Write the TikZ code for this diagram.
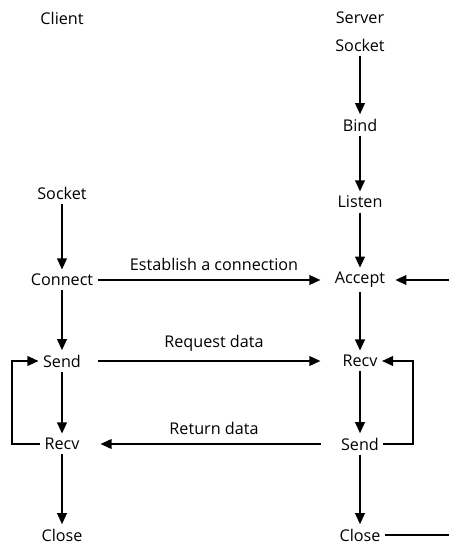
\documentclass[tikz,border=0pt]{standalone}
\usepackage{fontspec}
\setmainfont{Open Sans}
\usetikzlibrary{arrows.meta,positioning}
\tikzset{
  >={Triangle[length=2.8mm,width=2.4mm]},
  lbl/.style={font=\fontsize{11.5}{13}\selectfont,inner sep=3pt},
  flow/.style={->,line width=1.5pt,draw=#1},
  flow/.default=black,
}
\begin{document}
\begin{tikzpicture}[x=0.025cm,y=-0.025cm]
    \useasboundingbox (0,0) rectangle (449,544);
    % headings
    \node[lbl] (client) at (62,18)  {Client};
    \node[lbl] (server) at (360,18) {Server};
    % server side
    \node[lbl] (ssock)  at (360,45)  {Socket};
    \node[lbl] (bind)   at (360,125) {Bind};
    \node[lbl] (listen) at (360,202) {Listen};
    \node[lbl] (accept) at (360,280) {Accept};
    \node[lbl] (srecv)  at (360,361) {Recv};
    \node[lbl] (ssend)  at (360,444) {Send};
    \node[lbl] (sclose) at (360,535) {Close};
    % client side
    \node[lbl] (csock)   at (62,193) {Socket};
    \node[lbl] (connect) at (62,280) {Connect};
    \node[lbl] (csend)   at (62,361) {Send};
    \node[lbl] (crecv)   at (62,444) {Recv};
    \node[lbl] (cclose)  at (62,535) {Close};
    \coordinate (edgeA) at (449,280);
    \coordinate (edgeC) at (449,535);
    \foreach \a/\b in {ssock/bind,bind/listen,listen/accept,accept/srecv,srecv/ssend,ssend/sclose,
      csock/connect,connect/csend,csend/crecv,crecv/cclose} \draw[flow] (\a) -- (\b);
    \draw[flow,shorten >=7pt] (connect.east) -- node[lbl,above=3pt]{Establish a connection} (accept.west);
    \draw[flow,shorten >=7pt] (csend -| connect.east) -- node[lbl,above=3pt]{Request data} (srecv -| accept.west);
    \draw[flow,shorten <=7pt,shorten >=2pt] (ssend -| accept.west) -- node[lbl,above=3pt]{Return data} (crecv -| connect.east);
    \draw[flow,shorten >=4pt] (edgeA) -- (accept.east);
    \draw[line width=1.5pt] (sclose.east) -- (edgeC);
    \draw[flow] (crecv.west) -- ++(-28,0) |- (csend.west);
    \draw[flow] (ssend.east) -- ++(30,0) |- (srecv.east);
  \end{tikzpicture}
\end{document}
